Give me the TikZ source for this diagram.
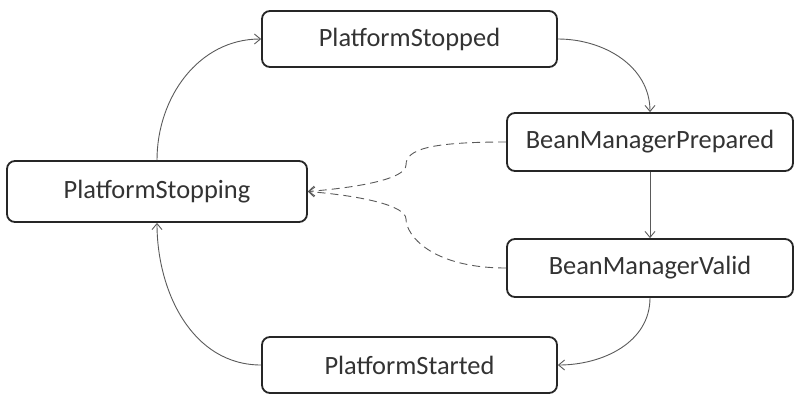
\documentclass[tikz,border=0pt]{standalone}
\usepackage{fontspec}
\setmainfont{Carlito}
\usetikzlibrary{arrows.meta}
\definecolor{boxline}{HTML}{262626}
\definecolor{conn}{HTML}{5A5A5A}
\definecolor{txt}{HTML}{333333}
\begin{document}
\begin{tikzpicture}[x=1pt,y=-1pt,
  state/.style={draw=boxline, line width=1.8pt, rounded corners=8pt, fill=white,
    inner sep=0pt, text=txt, font=\fontsize{26.4}{30}\selectfont},
  flow/.style={draw=conn, line width=0.9pt, -{Straight Barb[length=6pt,width=10pt]}},
  dflow/.style={flow, dash pattern=on 8pt off 5pt}]
\useasboundingbox (0,0) rectangle (795,394);
\node[state, minimum width=295pt, minimum height=56pt] (stopped) at (409.5,39) {PlatformStopped};
\node[state, minimum width=286pt, minimum height=58pt] (bmp) at (650,142) {BeanManagerPrepared};
\node[state, minimum width=300pt, minimum height=61pt] (stopping) at (157,191.5) {PlatformStopping};
\node[state, minimum width=286pt, minimum height=58pt] (bmv) at (650,268) {BeanManagerValid};
\node[state, minimum width=295pt, minimum height=56pt] (started) at (409.5,365) {PlatformStarted};
\coordinate (m1) at (406,165);
\coordinate (m2) at (406,219);
\draw[flow] (stopping.north) to[out=90,in=180] (stopped.west);
\draw[flow] (stopped.east) to[out=0,in=90] (bmp.north);
\draw[flow] (bmp.south) -- (bmv.north);
\draw[flow] (bmv.south) to[out=-90,in=0] (started.east);
\draw[flow] (started.west) to[out=180,in=-90] (stopping.south);
\draw[dflow] (bmp.west) .. controls +(-75,0) and +(0,-16) .. (m1) .. controls +(0,14) and +(50,-4) .. (stopping.east);
\draw[dflow] (bmv.west) .. controls +(-75,0) and +(0,16) .. (m2) .. controls +(0,-14) and +(50,4) .. (stopping.east);
\end{tikzpicture}
\end{document}
